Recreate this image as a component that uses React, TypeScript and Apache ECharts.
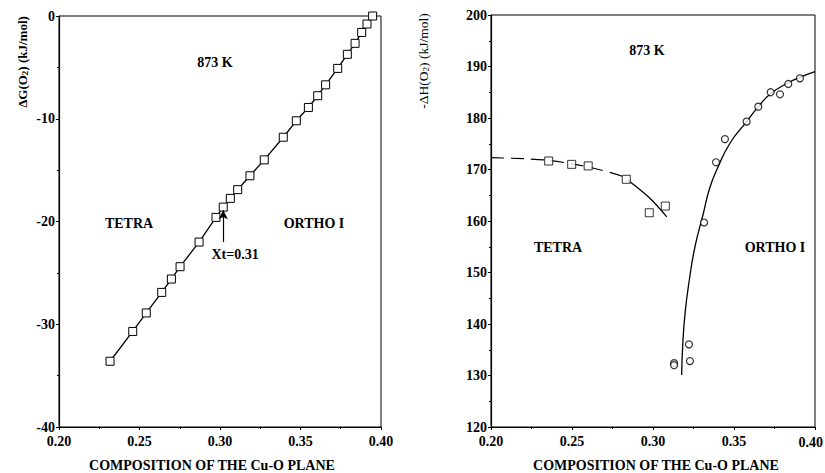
import React, { useEffect, useRef } from "react";
import * as echarts from "echarts";

// Left panel: ΔG(O2) vs composition
const gX = [0.2317, 0.2458, 0.2542, 0.2638, 0.2698, 0.2752, 0.287, 0.2975, 0.302, 0.3064, 0.311, 0.3186, 0.3275, 0.3393, 0.3474, 0.3549, 0.3607, 0.3656, 0.3731, 0.3791, 0.3839, 0.388, 0.3913, 0.3948];
const gY = [-33.6, -30.7, -28.9, -26.9, -25.6, -24.4, -22.0, -19.6, -18.6, -17.75, -16.9, -15.55, -14.0, -11.8, -10.2, -8.9, -7.76, -6.7, -5.1, -3.73, -2.66, -1.6, -0.78, 0];

// Transition arrow (Xt)
const arrowX = 0.302;
const arrowFromY = -22.0;
const arrowToY = -18.9;

// Right panel: -ΔH(O2) vs composition
const tetraX = [0.2356, 0.2498, 0.26, 0.2835, 0.2977, 0.3076];
const tetraY = [171.65, 171.0, 170.7, 168.1, 161.6, 162.9];
const orthoX = [0.313, 0.313, 0.3222, 0.3228, 0.3315, 0.3389, 0.3444, 0.3578, 0.365, 0.3726, 0.3784, 0.3835, 0.3907];
const orthoY = [132.4, 132.0, 136.05, 132.8, 159.7, 171.4, 175.9, 179.3, 182.2, 185.0, 184.6, 186.6, 187.7];

// Fitted curves
const tetraDashX = [0.2, 0.22, 0.235, 0.25, 0.264, 0.2817, 0.2858];
const tetraDashY = [172.3, 172.1, 171.8, 171.1, 170.2, 168.6, 167.6];
const tetraSolidX = [0.2858, 0.2981, 0.3085];
const tetraSolidY = [167.6, 164.4, 160.8];
const orthoCurveX = [0.3177, 0.3183, 0.3198, 0.3224, 0.3259, 0.3311, 0.3349, 0.3393, 0.3475, 0.3578, 0.365, 0.3722, 0.3825, 0.3907, 0.4];
const orthoCurveY = [130.1, 135.6, 142.1, 148.5, 155.0, 161.5, 166.3, 169.9, 175.1, 179.3, 182.2, 184.6, 186.7, 187.9, 189.0];

const xTitle = "COMPOSITION OF THE Cu-O PLANE";
const xMaxLabel = "0.40";
const FONT = "'Liberation Serif', 'Times New Roman', serif";

const zip = (xs: number[], ys: number[]) => xs.map((x, i) => [x, ys[i]]);

function xAxis(gridIndex: number, showMax: boolean) {
  return {
    type: "value",
    gridIndex,
    min: 0.2,
    max: 0.4,
    interval: 0.05,
    axisLine: { show: true, onZero: false, lineStyle: { color: "#000", width: 1.2 } },
    axisTick: { show: true, length: 3, inside: false, lineStyle: { color: "#000" } },
    minorTick: { show: true, splitNumber: 2, length: 2, lineStyle: { color: "#000" } },
    splitLine: { show: false },
    axisLabel: {
      fontFamily: FONT,
      fontWeight: "bold",
      fontSize: 14,
      color: "#000",
      margin: 7,
      showMaxLabel: showMax,
      formatter: (v: number) => v.toFixed(2),
    },
  };
}

function yAxis(gridIndex: number, min: number, max: number) {
  return {
    type: "value",
    gridIndex,
    min,
    max,
    interval: 10,
    axisLine: { show: true, onZero: false, lineStyle: { color: "#000", width: 1.2 } },
    axisTick: { show: true, length: 3, inside: false, lineStyle: { color: "#000" } },
    minorTick: { show: true, splitNumber: 2, length: 2, lineStyle: { color: "#000" } },
    splitLine: { show: false },
    axisLabel: {
      fontFamily: FONT,
      fontWeight: "bold",
      fontSize: 14,
      color: "#000",
      margin: 4,
      formatter: (v: number) => String(v),
    },
  };
}

function label(text: string, x: number, y: number, size = 14, align = "center") {
  return {
    type: "text",
    x,
    y,
    style: {
      text,
      fontFamily: FONT,
      fontWeight: "bold",
      fontSize: size,
      fill: "#000",
      align,
      verticalAlign: "middle",
    },
  };
}

function yTitle(main: string, tail: string, x: number, y: number, weight: string, size: number) {
  return {
    type: "text",
    x,
    y,
    rotation: Math.PI / 2,
    style: {
      text: `${main}{sub|2}${tail}`,
      fontFamily: FONT,
      fontWeight: weight,
      fontSize: size,
      fill: "#000",
      align: "center",
      verticalAlign: "middle",
      rich: {
        sub: {
          fontFamily: FONT,
          fontWeight: weight,
          fontSize: 9,
          fill: "#000",
          verticalAlign: "bottom",
          padding: [6, 0, 0, 0],
        },
      },
    },
  };
}

export default function App() {
  const ref = useRef<HTMLDivElement>(null);

  useEffect(() => {
    if (!ref.current) return;
    const chart = echarts.init(ref.current, null, { renderer: "svg" });
    const option = {
      animation: false,
      backgroundColor: "#fff",
      grid: [
        { left: 59, top: 16, width: 322, height: 411, show: true, borderColor: "#000", borderWidth: 1, backgroundColor: "transparent", outerBoundsMode: "none" },
        { left: 491, top: 15, width: 324, height: 412, show: true, borderColor: "#000", borderWidth: 1, backgroundColor: "transparent", outerBoundsMode: "none" },
      ],
      xAxis: [xAxis(0, true), xAxis(1, false)],
      yAxis: [yAxis(0, -40, 0), yAxis(1, 120, 200)],
      series: [
        {
          type: "line",
          xAxisIndex: 0,
          yAxisIndex: 0,
          data: zip(gX, gY),
          symbol: "rect",
          symbolSize: 8,
          showAllSymbol: true,
          lineStyle: { color: "#000", width: 1.3 },
          itemStyle: { color: "#fff", borderColor: "#000", borderWidth: 1 },
          z: 3,
          markLine: {
            silent: true,
            symbol: ["none", "arrow"],
            symbolSize: [7, 9],
            label: { show: false },
            lineStyle: { color: "#000", width: 1.2, type: "solid" },
            data: [[{ coord: [arrowX, arrowFromY] }, { coord: [arrowX, arrowToY] }]],
          },
        },
        {
          type: "line",
          xAxisIndex: 1,
          yAxisIndex: 1,
          data: zip(tetraDashX, tetraDashY),
          symbol: "none",
          smooth: 0.3,
          lineStyle: { color: "#000", width: 1.2, type: [13, 7] },
          z: 2,
        },
        {
          type: "line",
          xAxisIndex: 1,
          yAxisIndex: 1,
          data: zip(tetraSolidX, tetraSolidY),
          symbol: "none",
          smooth: 0.3,
          lineStyle: { color: "#000", width: 1.3 },
          z: 2,
        },
        {
          type: "line",
          xAxisIndex: 1,
          yAxisIndex: 1,
          data: zip(orthoCurveX, orthoCurveY),
          symbol: "none",
          smooth: 0.5,
          lineStyle: { color: "#000", width: 1.3 },
          z: 2,
        },
        {
          type: "scatter",
          xAxisIndex: 1,
          yAxisIndex: 1,
          data: zip(tetraX, tetraY),
          symbol: "rect",
          symbolSize: 8,
          itemStyle: { color: "#fff", borderColor: "#000", borderWidth: 1 },
          z: 4,
        },
        {
          type: "scatter",
          xAxisIndex: 1,
          yAxisIndex: 1,
          data: zip(orthoX, orthoY),
          symbol: "circle",
          symbolSize: 7,
          itemStyle: { color: "#fff", borderColor: "#000", borderWidth: 1.2 },
          z: 4,
        },
      ],
      graphic: [
        yTitle("ΔG(O", ") (kJ/mol)", 22, 62, "bold", 13),
        yTitle("-ΔH(O", ") (kJ/mol)", 423, 61, "normal", 13.5),
        label(xTitle, 212, 465),
        label(xTitle, 656, 465),
        label(xMaxLabel, 823, 442, 14, "right"),
        label("873 K", 215, 62),
        label("TETRA", 129, 223),
        label("ORTHO I", 314, 223),
        label("Xt=0.31", 235, 254),
        label("873 K", 647, 50),
        label("TETRA", 558, 247),
        label("ORTHO I", 775, 247),
      ],
    };
    chart.setOption(option as any);
    return () => chart.dispose();
  }, []);

  return (
    <div
      ref={ref}
      style={{ position: "absolute", left: 0, top: 0, width: 825, height: 473 }}
    />
  );
}
